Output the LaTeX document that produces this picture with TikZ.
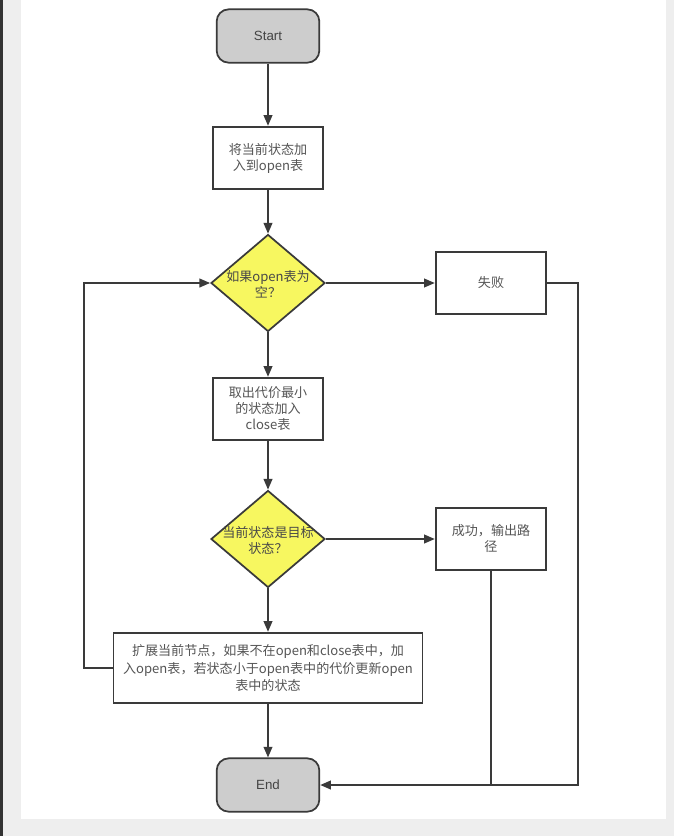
\documentclass[tikz,border=0pt]{standalone}
\usepackage{fontspec}
\setmainfont{Liberation Sans}
\newfontfamily\cjk{Noto Sans CJK SC}
\usetikzlibrary{arrows.meta,shapes.geometric}
\definecolor{edgec}{HTML}{3A3A3A}
\definecolor{termfill}{HTML}{CDCDCD}
\definecolor{diafill}{HTML}{F7F760}
\definecolor{txtc}{HTML}{555555}
\definecolor{pagebg}{HTML}{EEEEEE}
\definecolor{strip}{HTML}{333333}
\begin{document}
\begin{tikzpicture}[x=0.75pt,y=-0.75pt,
  term/.style={draw=edgec,line width=1.3pt,fill=termfill,rounded corners=9pt,
    minimum width=77pt,minimum height=40pt,inner sep=0pt,
    font=\fontsize{10}{12}\selectfont,text=txtc!80!black},
  procbox/.style={draw=edgec,line width=1.3pt,fill=white,
    minimum width=83pt,minimum height=47pt,inner sep=0pt,align=center,
    font=\cjk\fontsize{9.8}{12}\selectfont,text=txtc},
  dia/.style={draw=edgec,line width=1.3pt,fill=diafill,diamond,inner sep=0pt,
    minimum width=85.5pt,minimum height=72.75pt},
  diatext/.style={align=center,inner sep=0pt,font=\cjk\fontsize{9.8}{12}\selectfont,text=txtc!85!black},
  arr/.style={draw=edgec,line width=1.3pt,-{Triangle[length=8pt,width=6.5pt]}},
  ln/.style={draw=edgec,line width=1.3pt}]
\useasboundingbox (0,0) rectangle (674,836);
\fill[pagebg] (0,0) rectangle (674,836);
\fill[strip] (0,0) rectangle (3,836);
\fill[white] (21,0) rectangle (666,819);

\node[term] (start) at (268,36) {Start};
\node[procbox] (b1) at (268,158) {将当前状态加\\入到open表};
\node[dia] (d1) at (268,283) {};
\node[diatext] (d1t) at (268,284) {如果open表为\\空？};
\node[procbox] (fail) at (491,283) {失败};
\node[procbox] (b2) at (268,409) {取出代价最小\\的状态加入\\close表};
\node[dia] (d2) at (268,539) {};
\node[diatext] (d2t) at (268,540) {当前状态是目标\\状态？};
\node[procbox] (succ) at (491,539) {成功，输出路\\径};
\node[procbox,minimum width=231.75pt,minimum height=53pt,font=\cjk\fontsize{9.8}{13}\selectfont] (b3) at (268,668)
  {扩展当前节点，如果不在open和close表中，加\\入open表，若状态小于open表中的代价更新open\\表中的状态};
\node[term] (end) at (268,785) {End};

\coordinate (lp) at (84,668);
\coordinate (rp) at (578,283);

\draw[arr] (start) -- (b1);
\draw[arr] (b1) -- (d1);
\draw[arr] (d1) -- (fail);
\draw[arr] (d1) -- (b2);
\draw[arr] (b2) -- (d2);
\draw[arr] (d2) -- (succ);
\draw[arr] (d2) -- (b3);
\draw[arr] (b3) -- (end);
\draw[arr] (b3.west) -- (lp) |- (d1.west);
\draw[arr] (fail.east) -- (rp) |- (end.east);
\draw[ln] (succ.south) -- (succ.south |- end.east);
\end{tikzpicture}
\end{document}
